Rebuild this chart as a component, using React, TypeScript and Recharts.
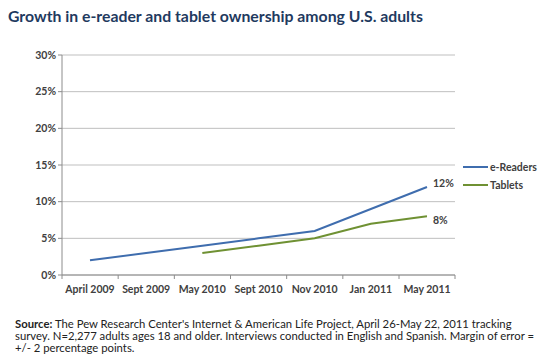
import React from 'react';
import { LineChart, Line, XAxis, YAxis, CartesianGrid, LabelList } from 'recharts';

const periods = ['April 2009', 'Sept 2009', 'May 2010', 'Sept 2010', 'Nov 2010', 'Jan 2011', 'May 2011'];
const eReaders = [2, 3, 4, 5, 6, 9, 12];
const tablets = [null, null, 3, 4, 5, 7, 8];
const yTicks = [0, 5, 10, 15, 20, 25, 30];

const BLUE = '#3F6DAE';
const GREEN = '#6F9133';
const FONT = 'Lato, "Open Sans", sans-serif';

const data = periods.map((p, i) => ({ period: p, eReaders: eReaders[i], tablets: tablets[i] }));

// Excel-style x tick: label centred, small tick mark on the band boundary
const XTick = (props: any) => {
  const { x, y, payload, index } = props;
  const half = 28;
  return (
    <g>
      <line x1={x - half} x2={x - half} y1={y - 8} y2={y - 4} stroke="#8c8c8c" />
      {index === periods.length - 1 && (
        <line x1={x + half} x2={x + half} y1={y - 8} y2={y - 4} stroke="#8c8c8c" />
      )}
      <text x={x} y={y + 10} textAnchor="middle" fontSize={10.5} fontWeight={700} fill="#404040" fontFamily={FONT}>
        {payload.value}
      </text>
    </g>
  );
};

const endLabel = (values: (number | null)[], dy: number) => (props: any) => {
  const { x, y, index } = props;
  if (index !== values.length - 1) return null;
  return (
    <text x={x + 6} y={y + dy} fontSize={10.5} fontWeight={700} fill="#404040" fontFamily={FONT}>
      {values[index]}%
    </text>
  );
};

export default function App() {
  return (
    <div style={{ position: 'relative', width: 550, height: 362, background: '#fff', fontFamily: FONT, margin: -8 }}>
      <div style={{ position: 'absolute', left: 8, top: 6, fontSize: 15.8, fontWeight: 700, color: '#1F3A60' }}>
        Growth in e-reader and tablet ownership among U.S. adults
      </div>
      <div style={{ position: 'absolute', left: 0, top: 0 }}>
        <LineChart width={550} height={300} data={data} margin={{ top: 55, right: 95, bottom: 0, left: 0 }}>
          <CartesianGrid vertical={false} stroke="#bfbfbf" />
          <XAxis
            dataKey="period"
            height={25}
            stroke="#8c8c8c"
            tickLine={false}
            interval={0}
            padding={{ left: 28, right: 28 }}
            tick={<XTick />}
          />
          <YAxis
            width={62}
            domain={[0, 30]}
            ticks={yTicks}
            stroke="#8c8c8c"
            tickSize={4}
            tickFormatter={(v: number) => `${v}%`}
            tick={{ fontSize: 10.5, fontWeight: 700, fill: '#404040', fontFamily: FONT }}
          />
          <Line type="linear" dataKey="eReaders" stroke={BLUE} strokeWidth={2} dot={false} isAnimationActive={false}>
            <LabelList dataKey="eReaders" content={endLabel(eReaders, 0)} />
          </Line>
          <Line type="linear" dataKey="tablets" stroke={GREEN} strokeWidth={2} dot={false} isAnimationActive={false}>
            <LabelList dataKey="tablets" content={endLabel(tablets, 8)} />
          </Line>
        </LineChart>
      </div>
      <div style={{ position: 'absolute', left: 463, top: 158, fontSize: 10.5, fontWeight: 700, color: '#404040', lineHeight: '18px' }}>
        <div style={{ display: 'flex', alignItems: 'center' }}>
          <span style={{ display: 'inline-block', width: 25, height: 2, background: BLUE, marginRight: 2 }} />
          e-Readers
        </div>
        <div style={{ display: 'flex', alignItems: 'center' }}>
          <span style={{ display: 'inline-block', width: 25, height: 2, background: GREEN, marginRight: 2 }} />
          Tablets
        </div>
      </div>
      <div style={{ position: 'absolute', left: 15, top: 318, fontSize: 11.3, color: '#222', lineHeight: '12px', whiteSpace: 'nowrap' }}>
        <b>Source:</b> The Pew Research Center's Internet &amp; American Life Project, April 26-May 22, 2011 tracking<br />
        survey. N=2,277 adults ages 18 and older. Interviews conducted in English and Spanish. Margin of error =<br />
        +/- 2 percentage points.
      </div>
    </div>
  );
}
